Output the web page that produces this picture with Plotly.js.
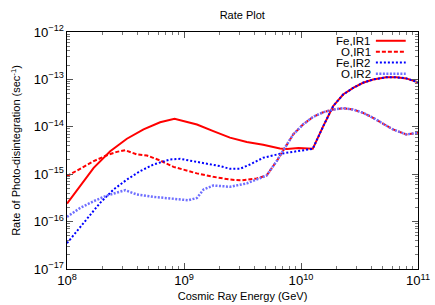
<!DOCTYPE html>
<html>
<head>
<meta charset="utf-8">
<script src="https://cdn.plot.ly/plotly-3.0.1.min.js"></script>
<style>html,body{margin:0;padding:0;background:#fff;}#chart{width:435px;height:305px;}</style>
</head>
<body>
<div id="chart"></div>
<script>
// Fe, IR1 (red solid)
const feIR1_E = [1.00e8,1.30e8,1.69e8,2.34e8,3.25e8,4.51e8,6.25e8,8.3e8,1.09e9,1.29e9,1.78e9,2.47e9,3.44e9,4.75e9,6.6e9,7.6e9,9.5e9,1.15e10,1.26e10,1.55e10,1.88e10,2.29e10,2.79e10,3.39e10,4.13e10,5.37e10,6.55e10,7.94e10,1.0e11];
const feIR1_R = [2.40e-16,5.6e-16,1.36e-15,3.05e-15,5.6e-15,8.8e-15,1.25e-14,1.48e-14,1.25e-14,1.12e-14,8.1e-15,5.9e-15,4.8e-15,4.2e-15,3.5e-15,3.4e-15,3.55e-15,3.47e-15,3.43e-15,1.03e-14,2.72e-14,4.8e-14,6.6e-14,8.5e-14,9.95e-14,1.11e-13,1.11e-13,1.05e-13,8.7e-14];
// O, IR1 (red dashed)
const oIR1_E = [1.0e8,1.30e8,1.69e8,2.19e8,2.67e8,3.14e8,3.95e8,4.82e8,6.25e8,8.13e8,1.09e9,1.29e9,1.78e9,2.47e9,3.11e9,4.18e9,5.08e9,6.19e9,7.29e9,8.57e9,1.04e10,1.27e10,1.55e10,1.88e10,2.29e10,2.79e10,3.39e10,4.13e10,5.01e10,6.12e10,7.94e10,1.0e11];
const oIR1_R = [9.1e-16,1.30e-15,1.88e-15,2.51e-15,2.96e-15,3.21e-15,2.61e-15,2.48e-15,1.95e-15,1.43e-15,1.16e-15,1.04e-15,8.8e-16,7.7e-16,7.4e-16,8.1e-16,9.4e-16,1.88e-15,3.6e-15,6.9e-15,1.12e-14,1.62e-14,2.03e-14,2.32e-14,2.47e-14,2.32e-14,1.97e-14,1.55e-14,1.17e-14,8.8e-15,6.9e-15,7.5e-15];
// Fe, IR2 (blue dotted)
const feIR2_E = [1.0e8,1.22e8,1.48e8,1.92e8,2.50e8,3.25e8,4.22e8,5.48e8,7.60e8,9.27e8,1.20e9,1.57e9,2.03e9,2.47e9,3.01e9,3.66e9,4.75e9,6.61e9,9.16e9,1.15e10,1.26e10,1.55e10,1.88e10,2.29e10,2.79e10,3.39e10,4.13e10,5.37e10,6.55e10,7.94e10,1.0e11];
const feIR2_R = [3.5e-17,6.3e-17,1.11e-16,2.49e-16,4.75e-16,7.7e-16,1.16e-15,1.60e-15,2.04e-15,2.11e-15,1.88e-15,1.68e-15,1.48e-15,1.30e-15,1.30e-15,1.60e-15,2.22e-15,2.69e-15,3.05e-15,3.21e-15,3.43e-15,1.03e-14,2.72e-14,4.8e-14,6.6e-14,8.5e-14,9.95e-14,1.11e-13,1.11e-13,1.05e-13,8.7e-14];
// O, IR2 (light blue dotted)
const oIR2_E = [1.0e8,1.30e8,1.69e8,2.19e8,3.14e8,3.95e8,5.48e8,7.60e8,1.09e9,1.29e9,1.47e9,1.78e9,2.47e9,3.44e9,4.92e9,5.08e9,6.19e9,7.29e9,8.57e9,1.04e10,1.27e10,1.55e10,1.88e10,2.29e10,2.79e10,3.39e10,4.13e10,5.01e10,6.12e10,7.94e10,1.0e11];
const oIR2_R = [1.26e-16,1.95e-16,2.69e-16,3.55e-16,4.6e-16,3.73e-16,3.33e-16,3.03e-16,2.82e-16,3.16e-16,4.75e-16,5.78e-16,5.42e-16,6.4e-16,9.1e-16,9.4e-16,1.88e-15,3.6e-15,6.9e-15,1.12e-14,1.62e-14,2.03e-14,2.32e-14,2.47e-14,2.32e-14,1.97e-14,1.55e-14,1.17e-14,8.8e-15,6.9e-15,7.5e-15];

const seriesNames = ['Fe,IR1','O,IR1','Fe,IR2','O,IR2'];
const seriesColors = ['#ff0000','#ff0000','#0000ff','#6f6fff'];
const seriesDash = ['solid','4px,2px','2px,2px','2px,1.5px'];
const seriesWidth = [2,2,2,2.5];
const xs = [feIR1_E,oIR1_E,feIR2_E,oIR2_E];
const ys = [feIR1_R,oIR1_R,feIR2_R,oIR2_R];

const FONT = 'Liberation Sans, Arial, sans-serif';

const traces = seriesNames.map((n,i)=>({
  type:'scatter', mode:'lines', name:n, x:xs[i], y:ys[i],
  line:{color:seriesColors[i], width:seriesWidth[i], dash:seriesDash[i]},
  showlegend:false
}));

// gnuplot-style key (text left of sample)
const legY = [0.963, 0.917, 0.871, 0.824];
const annotations = seriesNames.map((n,i)=>({
  xref:'paper', yref:'paper', x:0.868, y:legY[i], xanchor:'right', yanchor:'middle',
  text:n, showarrow:false, borderpad:0, height:10, valign:'middle',
  font:{family:FONT, size:11.5, color:'#000'}
}));
const shapes = seriesNames.map((n,i)=>({
  type:'line', xref:'paper', yref:'paper', x0:0.880, x1:0.965, y0:legY[i], y1:legY[i],
  line:{color:seriesColors[i], width:seriesWidth[i], dash:seriesDash[i]}
}));

const axisCommon = {
  type:'log', dtick:1, exponentformat:'power', showgrid:false, zeroline:false,
  showline:true, linecolor:'#000', linewidth:1, mirror:'ticks',
  ticks:'inside', ticklen:6, tickcolor:'#555', tickwidth:1,
  minor:{ticks:'inside', ticklen:3, tickcolor:'#777', dtick:'D1', showgrid:false},
  tickfont:{family:FONT, size:10.5, color:'#000'}
};

const layout = {
  width:435, height:305,
  margin:{l:67, r:17, t:32, b:36},
  paper_bgcolor:'#fff', plot_bgcolor:'#fff',
  title:{text:'Rate Plot', x:0.557, xanchor:'center', y:0.95, yanchor:'middle', font:{family:FONT, size:11, color:'#000'}},
  xaxis:Object.assign({}, axisCommon, {range:[8,11],
    title:{text:'Cosmic Ray Energy (GeV)', standoff:5, font:{family:FONT, size:11, color:'#000'}}}),
  yaxis:Object.assign({}, axisCommon, {range:[-17,-12],
    title:{text:'Rate of Photo-disintegration (sec<sup>-1</sup>)', standoff:10, font:{family:FONT, size:11, color:'#000'}}}),
  annotations:annotations,
  shapes:shapes,
  showlegend:false
};

Plotly.newPlot('chart', traces, layout, {displayModeBar:false, staticPlot:true});
</script>
</body>
</html>
